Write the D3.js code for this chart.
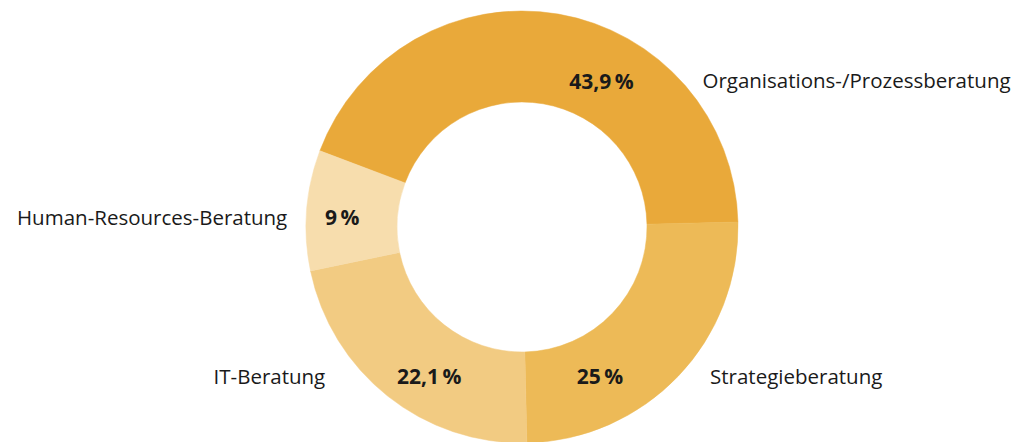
<!DOCTYPE html>
<html>
<head>
<meta charset="utf-8">
<script src="https://cdn.jsdelivr.net/npm/d3@7/dist/d3.min.js"></script>
<style>
    body { margin: 0; background: #fff; }
    svg { display: block; }
</style>
</head>
<body>
<div id="container"></div>
<script>
// slices in drawing order (clockwise)
const categories = ["Organisations-/Prozessberatung", "Strategieberatung", "IT-Beratung", "Human-Resources-Beratung"]
const shares = [43.9, 25, 22.1, 9]
const shareLabels = ["43,9\u2009%", "25\u2009%", "22,1\u2009%", "9\u2009%"]
const colors = ["#e9a93a", "#edba57", "#f2cb82", "#f7ddad"]

// where each percentage sits (degrees clockwise from 12 o'clock, radius)
const labelAngles = [28.6, 152.5, 211.8, 273]
const labelRadius = [166, 169, 176, 180]
// horizontal gap from the percentage to its category name (negative = name on the left)
const nameOffset = [101, 110, -104, -55]

main()

function main() {
    const width = 1018
    const height = 442
    const cx = 522
    const cy = 227
    const outerR = 216
    const innerR = 125

    const svg = d3.create("svg")
        .attr("width", width)
        .attr("height", height)

    const data = categories.map((c, i) => ({name: c, value: shares[i], label: shareLabels[i], index: i}))

    const startDeg = 88.7 - 360 * shares[0] / 100
    const pie = d3.pie()
        .value(d => d.value)
        .sort(null)
        .startAngle(startDeg * Math.PI / 180)
        .endAngle((startDeg + 360) * Math.PI / 180)

    const arc = d3.arc()
        .innerRadius(innerR)
        .outerRadius(outerR)

    const g = svg.append("g")
        .attr("transform", `translate(${cx},${cy})`)

    g.selectAll("path")
        .data(pie(data))
        .join("path")
        .attr("d", arc)
        .attr("fill", d => colors[d.data.index])
        .attr("stroke", d => colors[d.data.index])
        .attr("stroke-width", 0.5)

    const pos = data.map((d, i) => {
        const a = labelAngles[i] * Math.PI / 180
        return [Math.sin(a) * labelRadius[i], -Math.cos(a) * labelRadius[i]]
    })

    // bold percentages
    g.selectAll("text.pct")
        .data(data)
        .join("text")
        .attr("class", "pct")
        .attr("x", d => pos[d.index][0])
        .attr("y", d => pos[d.index][1])
        .attr("dy", "0.35em")
        .attr("text-anchor", "middle")
        .style("font-family", "'Open Sans', sans-serif")
        .style("font-weight", "bold")
        .style("font-size", "21px")
        .attr("fill", "#1a1a1a")
        .text(d => d.label)

    // category names next to the ring
    g.selectAll("text.name")
        .data(data)
        .join("text")
        .attr("class", "name")
        .attr("x", d => pos[d.index][0] + nameOffset[d.index])
        .attr("y", d => pos[d.index][1])
        .attr("dy", "0.35em")
        .attr("text-anchor", d => nameOffset[d.index] > 0 ? "start" : "end")
        .style("font-family", "'Open Sans', sans-serif")
        .style("font-size", "20.5px")
        .attr("fill", "#1a1a1a")
        .text(d => d.name)

    document.getElementById("container").append(svg.node())
}
</script>
</body>
</html>
